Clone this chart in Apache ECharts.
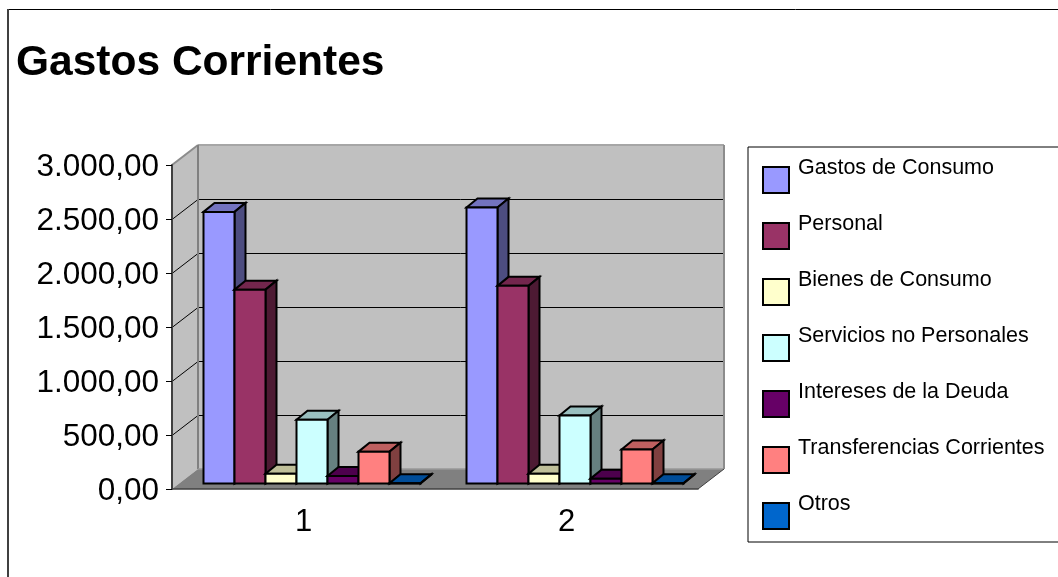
<!DOCTYPE html>
<html><head><meta charset="utf-8">
<style>html,body{margin:0;padding:0;background:#fff;overflow:hidden}#c{width:1058px;height:577px}</style>
<script src="https://cdn.jsdelivr.net/npm/echarts@6/dist/echarts.min.js"></script></head>
<body><div id="c"></div>
<script>
var categories = ['1', '2'];
var yTickValues = [0, 500, 1000, 1500, 2000, 2500, 3000];
var yTickLabels = ['0,00', '500,00', '1.000,00', '1.500,00', '2.000,00', '2.500,00', '3.000,00'];
var seriesNames = ['Gastos de Consumo', 'Personal', 'Bienes de Consumo', 'Servicios no Personales', 'Intereses de la Deuda', 'Transferencias Corrientes', 'Otros'];
var gastosConsumo = [2515, 2555];
var personal = [1795, 1830];
var bienesConsumo = [90, 90];
var serviciosNoPersonales = [590, 630];
var interesesDeuda = [70, 45];
var transferencias = [295, 315];
var otros = [3, 3];
var seriesValues = [gastosConsumo, personal, bienesConsumo, serviciosNoPersonales, interesesDeuda, transferencias, otros];
var colors = ['#9999FF', '#993366', '#FFFFCC', '#CCFFFF', '#660066', '#FF8080', '#0066CC'];
var topColors = ['#7373BF', '#73264D', '#BFBF99', '#99BFBF', '#4D004D', '#BF6060', '#004D99'];
var sideColors = ['#4D4D80', '#4D1A33', '#808066', '#668080', '#330033', '#804040', '#003366'];

var wallDX = 26, wallDY = -20, barDX = 11, barDY = -9, baseDX = 31.5, baseDY = -5.5, barW = 31;

function poly(pts, fill, stroke, lw) {
  return {type: 'polygon', shape: {points: pts}, style: {fill: fill, stroke: stroke || null, lineWidth: lw || 0, lineJoin: 'miter'}};
}
function line(x1, y1, x2, y2, stroke, lw) {
  return {type: 'line', shape: {x1: x1, y1: y1, x2: x2, y2: y2}, style: {stroke: stroke, lineWidth: lw || 1}};
}
function wallItem(params, api) {
  var c = params.coordSys, L = c.x, R = c.x + c.width, T = c.y, B = c.y + c.height;
  var kids = [
    poly([[L + wallDX, T + wallDY], [R + wallDX, T + wallDY], [R + wallDX, B + wallDY], [L + wallDX, B + wallDY]], '#C0C0C0'),
    poly([[L, T], [L + wallDX, T + wallDY], [L + wallDX, B + wallDY], [L, B]], '#C0C0C0'),
    poly([[L, B], [L + wallDX, B + wallDY], [R + wallDX, B + wallDY], [R, B]], '#808080')
  ];
  yTickValues.forEach(function (v) {
    if (v === 0 || v === 3000) return;
    var y = api.coord([0, v])[1];
    kids.push(line(L, y + 0.5, L + wallDX, y + wallDY + 0.5, '#000', 1));
    kids.push(line(L + wallDX, y + wallDY + 0.5, R + wallDX - 1, y + wallDY + 0.5, '#000', 1));
  });
  kids.push(line(L, T, L + wallDX, T + wallDY, '#8C8C8C', 2));
  kids.push(line(L + wallDX, T + wallDY, R + wallDX, T + wallDY, '#A6A6A6', 2));
  kids.push(line(L + wallDX, T + wallDY, L + wallDX, B + wallDY, '#808080', 2));
  kids.push(line(R + wallDX, T + wallDY, R + wallDX, B + wallDY, '#8C8C8C', 2));
  kids.push(line(L + wallDX, B + wallDY, R + wallDX, B + wallDY, '#999', 1.5));
  kids.push(line(R, B, R + wallDX, B + wallDY, '#404040', 1));
  return {type: 'group', children: kids};
}
function barRenderer(s) {
  return function (params, api) {
    var cat = api.value(0), v = api.value(1);
    var bandW = api.size([1, 0])[0];
    var p0 = api.coord([cat, 0]), p1 = api.coord([cat, v]);
    var x0 = p0[0] - bandW / 2 + baseDX + s * barW, x1 = x0 + barW;
    var yb = p0[1] + baseDY, yt = p1[1] + baseDY;
    var k = '#000', w = 2;
    return {type: 'group', children: [
      poly([[x0, yt], [x0 + barDX, yt + barDY], [x1 + barDX, yt + barDY], [x1, yt]], topColors[s], k, w),
      poly([[x1, yb], [x1 + barDX, yb + barDY], [x1 + barDX, yt + barDY], [x1, yt]], sideColors[s], k, w),
      poly([[x0, yb], [x1, yb], [x1, yt], [x0, yt]], colors[s], k, w)
    ]};
  };
}
var series = [{
  type: 'custom', name: '_walls', silent: true, clip: false, z: 1,
  data: [[0, 0]], renderItem: wallItem, encode: {x: 0, y: 1}
}];
seriesNames.forEach(function (n, s) {
  series.push({
    type: 'custom', name: n, clip: false, z: 2 + s,
    itemStyle: {color: colors[s]},
    data: seriesValues[s].map(function (v, i) { return [i, v]; }),
    encode: {x: 0, y: 1}, renderItem: barRenderer(s)
  });
});
var chart = echarts.init(document.getElementById('c'), null, {renderer: 'canvas'});
chart.setOption({
  animation: false,
  backgroundColor: '#fff',
  textStyle: {fontFamily: 'Liberation Sans'},
  title: {text: 'Gastos Corrientes', left: 16, top: 42, padding: 0,
    textStyle: {fontFamily: 'Liberation Sans', fontWeight: 'bold', fontSize: 42.5, color: '#000'}},
  grid: {left: 172, top: 165, width: 526, height: 324},
  xAxis: {type: 'category', data: categories, boundaryGap: true,
    axisLine: {onZero: false, lineStyle: {color: '#404040', width: 1.5}},
    axisTick: {alignWithLabel: false, length: 7, lineStyle: {color: '#404040', width: 1}},
    axisLabel: {fontFamily: 'Liberation Sans', fontSize: 31, color: '#000', margin: 18},
    splitLine: {show: false}, z: 30},
  yAxis: {type: 'value', min: 0, max: 3000, interval: 500,
    axisLine: {show: true, lineStyle: {color: '#404040', width: 2}},
    axisTick: {show: true, length: 6, lineStyle: {color: '#000', width: 1}},
    axisLabel: {fontFamily: 'Liberation Sans', color: '#000', margin: 13,
      formatter: function (v) { return '{a|' + yTickLabels[yTickValues.indexOf(v)] + '}'; },
      rich: {a: {fontFamily: 'Liberation Sans', fontSize: 31.5, color: '#000', padding: [4, 0, 0, 0]}}},
    splitLine: {show: false}, z: 30},
  legend: {data: seriesNames, orient: 'vertical', left: 748, top: 147,
    padding: [9, 30, 2, 14], itemGap: 8, itemWidth: 26, itemHeight: 26, icon: 'rect',
    borderColor: '#000', borderWidth: 1, backgroundColor: '#fff', selectedMode: false,
    itemStyle: {borderColor: '#000', borderWidth: 2},
    formatter: function (n) { return '{a|' + n + '}\n{b| }'; },
    textStyle: {fontFamily: 'Liberation Sans', fontSize: 21.5, color: '#000',
      rich: {a: {fontFamily: 'Liberation Sans', fontSize: 21.5, color: '#000', height: 24, lineHeight: 24, padding: [0, 0, 0, 4]},
             b: {fontSize: 10, height: 24, lineHeight: 24}}}},
  graphic: [
    {type: 'line', shape: {x1: 8, y1: 9.5, x2: 1058, y2: 9.5}, style: {stroke: '#000', lineWidth: 1}, silent: true},
    {type: 'line', shape: {x1: 8, y1: 9, x2: 8, y2: 577}, style: {stroke: '#404040', lineWidth: 2}, silent: true}
  ],
  series: series
});
</script></body></html>
